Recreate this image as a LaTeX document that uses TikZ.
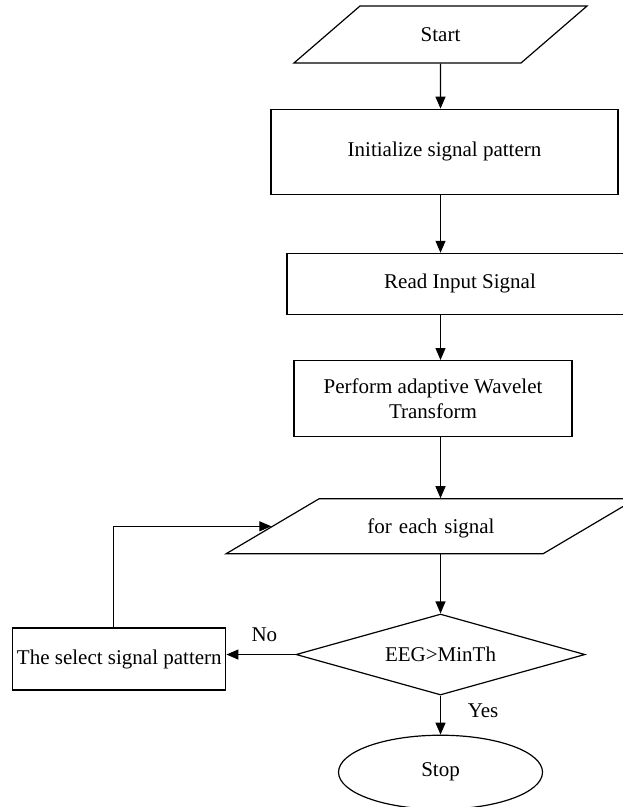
\documentclass[tikz,border=0pt]{standalone}
\usepackage{fontspec}
\setmainfont{Liberation Serif}
\usepackage{tikz}
\usetikzlibrary{shapes.geometric, arrows.meta, positioning}

\begin{document}
\begin{tikzpicture}[
    node distance=1cm,
    font=\fontsize{10.5}{12.6}\selectfont,
    box/.style={rectangle, draw, line width=0.6pt, inner sep=2pt, text centered},
    io/.style={trapezium, draw, line width=0.6pt, inner sep=0pt, align=center},
    arrow/.style={-{Triangle[length=6pt, width=5pt]}, line width=0.6pt}
]

\useasboundingbox (0,0) rectangle (311pt,-403.5pt);

\node[io, trapezium left angle=40.8, trapezium right angle=139.2, text width=80.5pt, text height=17.75pt, text depth=10.75pt] (start) at (220.25pt,-17.25pt) {Start};
\node[box, minimum width=173.5pt, minimum height=42.5pt, below=22.5pt of start, xshift=2pt] (init) {Initialize signal pattern};
\node[box, minimum width=173pt, minimum height=30.5pt, below=29pt of init, xshift=7.75pt] (read) {Read Input Signal};
\node[box, minimum width=139pt, minimum height=38pt, align=center, below=22.5pt of read, xshift=-13.5pt] (wavelet) {Perform adaptive Wavelet\\Transform};
\node[io, trapezium left angle=30.6, trapezium right angle=149.4, text width=112pt, text height=17.25pt, text depth=10.25pt, below=30.5pt of wavelet, xshift=-1pt] (loop) {for each signal};
\node[diamond, aspect=3.57, draw, line width=0.6pt, inner sep=0pt, minimum width=144.5pt, minimum height=40.5pt, below=29.5pt of loop, xshift=4.75pt] (check) {EEG>MinTh};
\node[ellipse, draw, line width=0.6pt, inner sep=0pt, minimum width=102pt, minimum height=37pt, below=19.5pt of check] (stop) {Stop};
\node[box, minimum width=106.5pt, minimum height=31pt, left=34.5pt of check, yshift=-2.25pt] (select) {The select signal pattern};

\draw[arrow] (start.south) -- (init.north -| start);
\draw[arrow] (init.south -| start) -- (read.north -| start);
\draw[arrow] (read.south -| start) -- (wavelet.north -| start);
\draw[arrow] (wavelet.south -| start) -- (loop.north -| start);
\draw[arrow] (loop.south -| check) -- (check.north);
\draw[arrow] (check.south) -- node[right=10pt, pos=0.4] {Yes} (stop.north);
\draw[arrow] (check.west) -- node[above=3pt, pos=0.45] {No} (check.west -| select.east);
\draw[arrow] ([xshift=-3pt]select.north) |- (loop.west);

\end{tikzpicture}
\end{document}
